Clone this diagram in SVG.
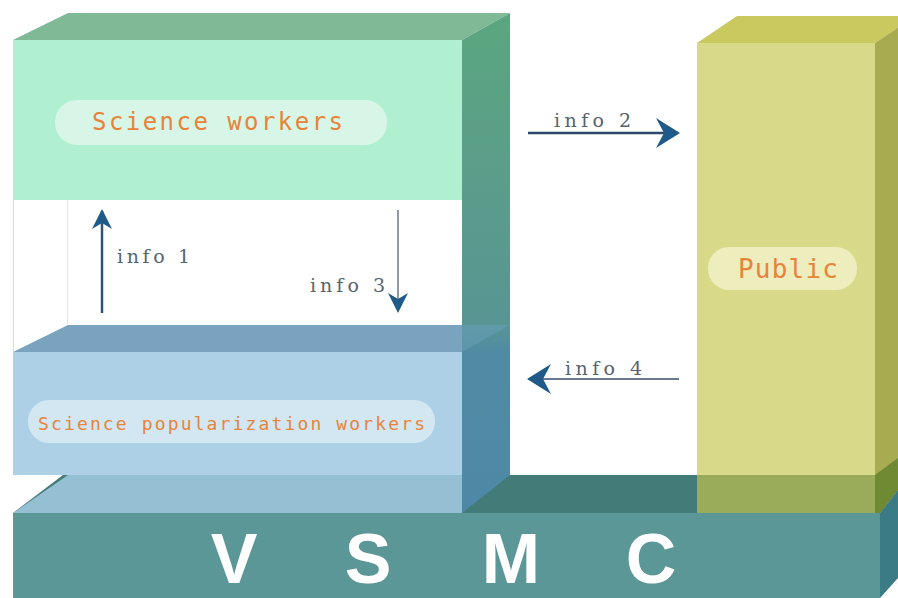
<svg xmlns="http://www.w3.org/2000/svg" width="898" height="598" viewBox="0 0 898 598">
<defs>
<linearGradient id="col" x1="0" y1="13" x2="0" y2="513" gradientUnits="userSpaceOnUse">
<stop offset="0" stop-color="#5ba67f"/>
<stop offset="0.38" stop-color="#5a9c8c"/>
<stop offset="0.62" stop-color="#589593"/>
<stop offset="0.68" stop-color="#508ba5"/>
<stop offset="1" stop-color="#4e88a6"/>
</linearGradient>
<marker id="ah" viewBox="0 0 20 20" refX="18" refY="10" markerWidth="20" markerHeight="20" markerUnits="userSpaceOnUse" orient="auto">
<path d="M0,0 L20,10 L0,20 L6,10 Z" fill="#1f5a88"/>
</marker>
<marker id="ahBig" viewBox="0 0 24 30" refX="22" refY="15" markerWidth="24" markerHeight="30" markerUnits="userSpaceOnUse" orient="auto">
<path d="M0,0 L24,15 L0,30 L8,15 Z" fill="#1f5a88"/>
</marker>
</defs>
<style>
.pill-label{font-family:"DejaVu Sans Mono","Liberation Mono",monospace;fill:#e8843a}
.info{font-family:"DejaVu Serif","Liberation Serif",serif;font-size:19px;fill:#56646f}
.vsmc{font-family:"Liberation Sans",Arial,sans-serif;font-weight:bold;font-size:70px;fill:#ffffff;text-anchor:middle}
</style>
<rect width="898" height="598" fill="#ffffff"/>

<g id="vsmc">
<polygon points="13,513 63,475 898,475 898,490 880,513" fill="#427b78"/>
<polygon points="880,513 898,490 898,578 880,598" fill="#3b7b86"/>
<rect x="13" y="513" width="867" height="85" fill="#5b9796"/>
<text class="vsmc" x="234" y="583">V</text>
<text class="vsmc" x="368" y="583">S</text>
<text class="vsmc" x="511" y="583">M</text>
<text class="vsmc" x="651" y="583">C</text>
</g>

<g id="public">
<polygon points="697,43 737,16 915,16 875,43" fill="#c9c95f"/>
<polygon points="875,43 915,16 915,475 875,503" fill="#a9ab50"/>
<rect x="697" y="43" width="178" height="470" fill="#d9d98a"/>
<rect x="697" y="475" width="178" height="38" fill="#9aac5a"/>
<polygon points="875,475 898,458 898,490 880,513 875,513" fill="#6f8a33"/>
<rect x="708" y="247" width="149" height="43" rx="21" fill="#ededbe"/>
<text class="pill-label" x="738" y="278" font-size="26" textLength="100" lengthAdjust="spacing">Public</text>
</g>

<g id="science-popularization-workers">
<polygon points="13,513 68,475 462,475 462,513" fill="#95bfd3"/>
<rect x="13" y="352" width="449" height="123" fill="#aed0e6"/>
<polygon points="13,352 68,325 510,325 462,352" fill="#7aa3bf"/>
<rect x="28" y="400" width="407" height="43" rx="21" fill="#d2e7f2"/>
<text class="pill-label" x="38" y="430" font-size="18" textLength="387" lengthAdjust="spacing">Science popularization workers</text>
</g>

<g id="science-workers">
<line x1="13.5" y1="200" x2="13.5" y2="352" stroke="#dddddd" stroke-width="1"/>
<line x1="67.5" y1="200" x2="67.5" y2="325" stroke="#e6e6e6" stroke-width="1"/>
<polygon points="13,40 68,13 510,13 462,40" fill="#7fb996"/>
<rect x="13" y="40" width="449" height="160" fill="#b0f0d0"/>
<polygon points="462,40 510,13 510,475 462,513" fill="url(#col)"/>
<polygon points="462,325 510,325 462,352" fill="#6a9fb8" opacity="0.5"/>
<rect x="55" y="100" width="332" height="45" rx="22" fill="#d7f6e7"/>
<text class="pill-label" x="92" y="130" font-size="24" textLength="251" lengthAdjust="spacing">Science workers</text>
</g>

<g id="connectors">
<line x1="102" y1="313" x2="102" y2="211" stroke="#2a557a" stroke-width="2.5" marker-end="url(#ah)"/>
<text class="info" x="117" y="263" textLength="73" lengthAdjust="spacing">info 1</text>
<line x1="528" y1="133" x2="678" y2="133" stroke="#2d4a68" stroke-width="2.5" marker-end="url(#ahBig)"/>
<text class="info" x="554" y="127" textLength="77" lengthAdjust="spacing">info 2</text>
<line x1="398" y1="210" x2="398" y2="311" stroke="#6a7888" stroke-width="1.5" marker-end="url(#ah)"/>
<text class="info" x="310" y="292" textLength="75" lengthAdjust="spacing">info 3</text>
<line x1="679" y1="379" x2="529" y2="379" stroke="#6a7890" stroke-width="2" marker-end="url(#ahBig)"/>
<text class="info" x="565" y="375" textLength="77" lengthAdjust="spacing">info 4</text>
</g>
</svg>
